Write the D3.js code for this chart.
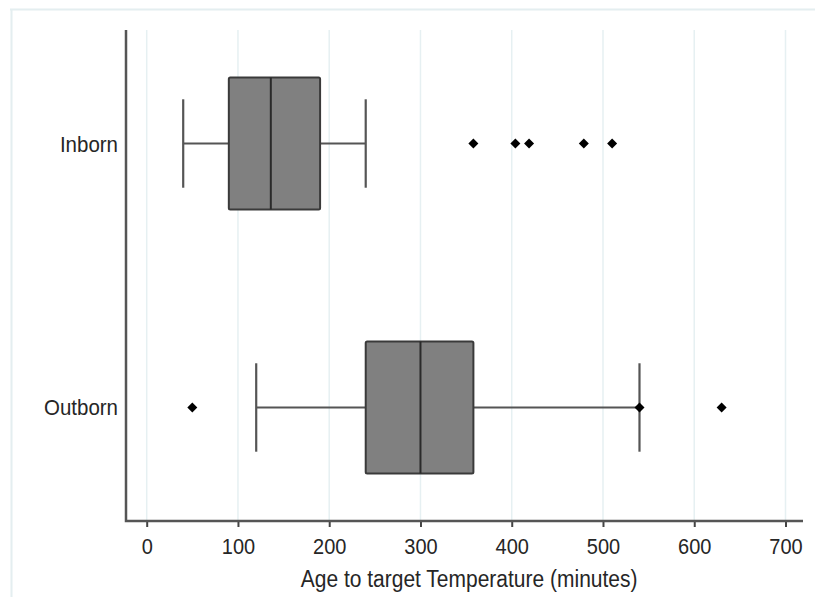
<!DOCTYPE html>
<html>
<head>
<meta charset="utf-8">
<script src="https://cdn.jsdelivr.net/npm/d3@7"></script>
<style>
  html, body { margin: 0; padding: 0; background: #fff; }
  svg { display: block; }
</style>
</head>
<body>
<svg id="chart" width="815" height="597"></svg>
<script>
// ---- data ----
const categories = ["Inborn", "Outborn"];
const whiskerLow = [40, 120];
const q1 = [90, 240];
const median = [136, 300];
const q3 = [190, 358];
const whiskerHigh = [240, 540];
const outliers = [
  [358, 404, 419, 479, 510],
  [50, 540, 630]
];
const xTicks = [0, 100, 200, 300, 400, 500, 600, 700];
const xTitle = "Age to target Temperature (minutes)";

// ---- layout ----
const svg = d3.select("#chart");
const plot = { left: 126, right: 803, top: 30, bottom: 521 };
const font = "Liberation Sans, Arial, sans-serif";
const textColor = "#262626";
const stretch = 1.1;

const x = d3.scaleLinear().domain([0, 700]).range([146.7, 785.5]);
const y = d3.scalePoint().domain(categories).range([plot.top, plot.bottom]).padding(0.43);
const step = y.step();
const boxH = step * 0.5;
const capH = step * 0.335;

// outer frame lines
svg.append("line").attr("x1", 10).attr("x2", 815).attr("y1", 9.5).attr("y2", 9.5)
  .attr("stroke", "#e4eef0").attr("stroke-width", 2);
svg.append("line").attr("x1", 11.5).attr("x2", 11.5).attr("y1", 9).attr("y2", 597)
  .attr("stroke", "#e4eef0").attr("stroke-width", 2);

// gridlines
svg.append("g").selectAll("line").data(xTicks).join("line")
  .attr("x1", d => x(d)).attr("x2", d => x(d))
  .attr("y1", plot.top).attr("y2", plot.bottom)
  .attr("stroke", "#e6f0f2").attr("stroke-width", 1.5);

// x axis
const xAxis = svg.append("g").attr("transform", `translate(0,${plot.bottom})`)
  .call(d3.axisBottom(x).tickValues(xTicks).tickSize(6).tickPadding(0).tickFormat(d3.format("d")));
xAxis.select(".domain").remove();
xAxis.selectAll(".tick line").attr("stroke", "#444").attr("stroke-width", 2);
xAxis.selectAll(".tick text")
  .attr("font-family", font)
  .attr("font-size", 20).attr("fill", textColor)
  .attr("y", 0).attr("dy", null)
  .attr("transform", `translate(0,33) scale(1,${stretch})`);

// axis lines
svg.append("path")
  .attr("d", `M${plot.left},${plot.top}V${plot.bottom}H${plot.right}`)
  .attr("fill", "none").attr("stroke", "#555").attr("stroke-width", 2.5);

// y labels
svg.append("g").selectAll("text").data(categories).join("text")
  .attr("transform", d => `translate(118,${y(d) + 8}) scale(1,${stretch})`)
  .attr("text-anchor", "end")
  .attr("font-family", font)
  .attr("font-size", 20.5).attr("fill", textColor)
  .text(d => d);

// x title
svg.append("text")
  .attr("transform", `translate(${(x(0) + x(700)) / 2 + 3},587) scale(1,${stretch})`)
  .attr("text-anchor", "middle")
  .attr("font-family", font)
  .attr("font-size", 21).attr("fill", textColor)
  .text(xTitle);

// boxes
const g = svg.append("g");
categories.forEach((c, i) => {
  const cy = y(c);
  // whisker lines
  g.append("line").attr("x1", x(whiskerLow[i])).attr("x2", x(q1[i]))
    .attr("y1", cy).attr("y2", cy).attr("stroke", "#555").attr("stroke-width", 2.2);
  g.append("line").attr("x1", x(q3[i])).attr("x2", x(whiskerHigh[i]))
    .attr("y1", cy).attr("y2", cy).attr("stroke", "#555").attr("stroke-width", 2.2);
  // caps
  [whiskerLow[i], whiskerHigh[i]].forEach(v => {
    g.append("line").attr("x1", x(v)).attr("x2", x(v))
      .attr("y1", cy - capH / 2).attr("y2", cy + capH / 2)
      .attr("stroke", "#555").attr("stroke-width", 2.2);
  });
  // box
  g.append("rect")
    .attr("x", x(q1[i])).attr("y", cy - boxH / 2)
    .attr("width", x(q3[i]) - x(q1[i])).attr("height", boxH)
    .attr("rx", 1.5)
    .attr("fill", "#808080").attr("stroke", "#3a3a3a").attr("stroke-width", 2);
  // median
  g.append("line").attr("x1", x(median[i])).attr("x2", x(median[i]))
    .attr("y1", cy - boxH / 2).attr("y2", cy + boxH / 2)
    .attr("stroke", "#2a2a2a").attr("stroke-width", 2);
  // outliers
  g.selectAll(null).data(outliers[i]).join("path")
    .attr("d", d3.symbol(d3.symbolSquare, 50))
    .attr("transform", d => `translate(${x(d)},${cy}) rotate(45)`)
    .attr("fill", "#000");
});
</script>
</body>
</html>
